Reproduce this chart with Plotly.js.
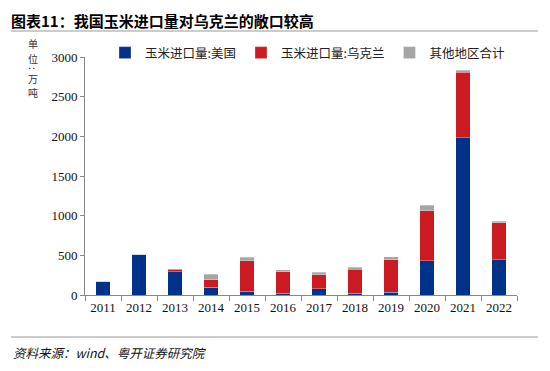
<!DOCTYPE html>
<html>
<head>
<meta charset="utf-8">
<script src="https://cdn.plot.ly/plotly-3.0.1.min.js"></script>
<style>html,body{margin:0;padding:0;background:#fff;}#chart{width:550px;height:371px;}</style>
</head>
<body>
<div id="chart"></div>
<script>
const years = ['2011','2012','2013','2014','2015','2016','2017','2018','2019','2020','2021','2022'];
const usImports = [172, 512, 295, 100, 46, 25, 76, 25, 34, 434, 1984, 445];
const ukraineImports = [0, 0, 28, 93, 383, 265, 180, 299, 411, 629, 824, 467];
const otherImports = [0, 0, 5, 68, 46, 29, 30, 29, 38, 68, 25, 17];
const seriesNames = ['玉米进口量:美国', '玉米进口量:乌克兰', '其他地区合计'];
const yTicks = [0, 500, 1000, 1500, 2000, 2500, 3000];

const cjk = '"Noto Sans CJK SC", "Noto Sans", sans-serif';
const serif = '"Liberation Serif", "DejaVu Serif", serif';
const colors = ['#013289', '#CC1A22', '#A5A5A5'];
const vals = [usImports, ukraineImports, otherImports];

const traces = vals.map((v, i) => ({
  type: 'bar', x: years, y: v, name: seriesNames[i],
  marker: {color: colors[i], line: {color: 'rgba(255,255,255,0.5)', width: 0.6}},
  hoverinfo: 'skip'
}));

// paper coordinate helpers (plot area: x 85..517, y 57..295)
const px = p => (p - 85) / 432;
const py = p => (295 - p) / 238;

const ylabelChars = [['单', 44, 0], ['位', 58, 0], [':', 68, 90], ['万', 78, 0], ['吨', 92, 0]];
const annotations = ylabelChars.map(([t, y, a]) => ({
  text: t, xref: 'paper', yref: 'paper', x: px(33), y: py(y),
  xanchor: 'center', yanchor: 'middle', showarrow: false, textangle: a,
  font: {family: cjk, size: 10, color: '#333'}
}));
annotations.push({
  text: '<i>资料来源：wind、粤开证券研究院</i>', xref: 'paper', yref: 'paper',
  x: px(11), y: py(352), xanchor: 'left', yanchor: 'middle', showarrow: false,
  font: {family: cjk, size: 12.5, color: '#111'}
});

const layout = {
  width: 550, height: 371,
  margin: {l: 85, r: 33, t: 57, b: 76, autoexpand: false},
  paper_bgcolor: '#fff', plot_bgcolor: '#fff',
  barmode: 'stack', bargap: 0.61,
  title: {
    text: '<b>图表11：我国玉米进口量对乌克兰的敞口较高</b>',
    xref: 'container', yref: 'container', x: 11/550, y: 1 - 22/371,
    xanchor: 'left', yanchor: 'middle',
    font: {family: cjk, size: 15, color: '#000'}
  },
  xaxis: {
    type: 'category', showline: true, linecolor: '#888', linewidth: 1,
    ticks: 'outside', tickson: 'boundaries', ticklen: 5, tickcolor: '#888',
    tickfont: {family: serif, size: 13, color: '#111'},
    showgrid: false, zeroline: false, fixedrange: true
  },
  yaxis: {
    range: [0, 3000], tickvals: yTicks, ticktext: yTicks.map(String),
    showline: true, linecolor: '#888', linewidth: 1,
    ticks: 'outside', ticklen: 4, tickcolor: '#888',
    tickfont: {family: serif, size: 13, color: '#111'},
    showgrid: false, zeroline: false, fixedrange: true
  },
  legend: {
    orientation: 'h', xref: 'container', yref: 'container',
    x: 105/550, y: 1 - 53/371, xanchor: 'left', yanchor: 'middle',
    font: {family: cjk, size: 12.5, color: '#222'}, traceorder: 'normal',
    bgcolor: 'rgba(0,0,0,0)'
  },
  shapes: [
    {type: 'line', xref: 'paper', yref: 'paper', x0: px(11), x1: px(538), y0: py(31), y1: py(31), line: {color: '#999', width: 1}},
    {type: 'line', xref: 'paper', yref: 'paper', x0: px(11), x1: px(538), y0: py(337), y1: py(337), line: {color: '#999', width: 1}}
  ],
  annotations: annotations,
  showlegend: true
};

Plotly.newPlot('chart', traces, layout, {displayModeBar: false, staticPlot: true});
</script>
</body>
</html>
